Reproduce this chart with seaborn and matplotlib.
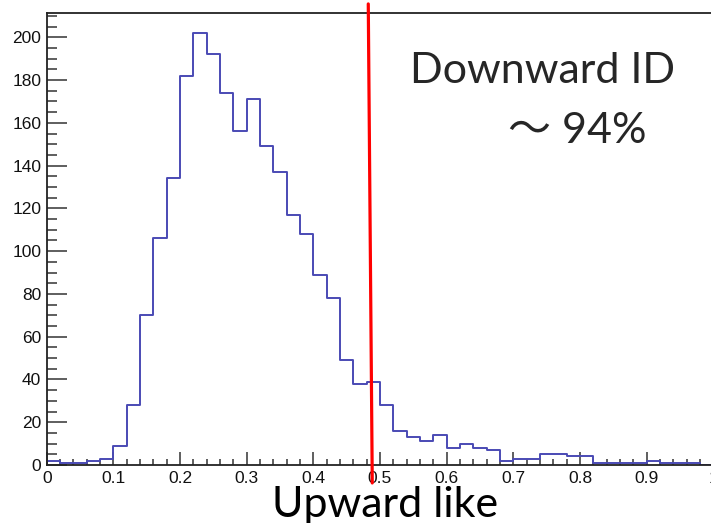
import numpy as np
import pandas as pd
import matplotlib
matplotlib.use("Agg")
import matplotlib.pyplot as plt
from matplotlib.ticker import MultipleLocator
import seaborn as sns

# Histogram of the upward-like score: 50 bins of width 0.02 on [0, 1]
bin_lo = [0.00, 0.02, 0.04, 0.06, 0.08, 0.10, 0.12, 0.14, 0.16, 0.18,
          0.20, 0.22, 0.24, 0.26, 0.28, 0.30, 0.32, 0.34, 0.36, 0.38,
          0.40, 0.42, 0.44, 0.46, 0.48, 0.50, 0.52, 0.54, 0.56, 0.58,
          0.60, 0.62, 0.64, 0.66, 0.68, 0.70, 0.72, 0.74, 0.76, 0.78,
          0.80, 0.82, 0.84, 0.86, 0.88, 0.90, 0.92, 0.94, 0.96, 0.98]
counts = [2, 1, 1, 2, 3, 9, 28, 70, 106, 134,
          182, 202, 192, 174, 156, 171, 149, 137, 117, 108,
          89, 78, 49, 38, 39, 28, 16, 13, 11, 14,
          8, 10, 8, 7, 2, 3, 3, 5, 5, 4,
          4, 1, 1, 1, 1, 2, 1, 1, 1, 0]
bin_width = 0.02

# Cut line (drawn by hand, slightly tilted)
cut_top = 0.4824
cut_bottom = 0.4884

x_ticks = [0, 0.1, 0.2, 0.3, 0.4, 0.5, 0.6, 0.7, 0.8, 0.9, 1]
x_tick_labels = ["0", "0.1", "0.2", "0.3", "0.4", "0.5", "0.6", "0.7", "0.8", "0.9", "1"]
y_ticks = [0, 20, 40, 60, 80, 100, 120, 140, 160, 180, 200]

title_text = "Downward ID"
eff_text = "～ 94%"
x_label = "Upward like"

df = pd.DataFrame({"score": np.array(bin_lo) + bin_width / 2, "n": counts})
edges = [round(b, 2) for b in bin_lo] + [1.0]

sns.set_style("white")
plt.rcParams["font.family"] = ["Liberation Sans", "DejaVu Sans"]

W, H = 711, 523
fig = plt.figure(figsize=(W / 100, H / 100), dpi=100)
ax_left, ax_right, ax_top, ax_bottom = 46.7, 713.3, 12.7, 465.0
ax = fig.add_axes([ax_left / W, 1 - ax_bottom / H,
                   (ax_right - ax_left) / W, (ax_bottom - ax_top) / H])

sns.histplot(data=df, x="score", weights="n", bins=edges, element="step",
             fill=False, color="#4a4ab4", linewidth=1.4, ax=ax)

ax.set_xlim(0, 1)
ax.set_ylim(0, 211.5)

# Hand-drawn cut line extending past the frame
ax.plot([cut_bottom, cut_top], [-8.4, 215.6], color="red", linewidth=2.3,
        clip_on=False, zorder=5)

ax.set_xticks(x_ticks)
ax.set_xticklabels(x_tick_labels)
ax.set_yticks(y_ticks)
ax.xaxis.set_minor_locator(MultipleLocator(0.02))
ax.yaxis.set_minor_locator(MultipleLocator(5))

ax.tick_params(axis="both", which="both", direction="in", color="#333333",
               width=1.1, labelsize=12.5, labelcolor="#111111")
ax.tick_params(axis="y", which="major", length=14.4, pad=4)
ax.tick_params(axis="y", which="minor", length=7.2)
ax.tick_params(axis="x", which="major", length=9.4, pad=4)
ax.tick_params(axis="x", which="minor", length=4.3)
ax.tick_params(left=True, bottom=True, which="both")

for side in ["left", "bottom", "top"]:
    ax.spines[side].set_visible(True)
    ax.spines[side].set_color("#222222")
    ax.spines[side].set_linewidth(1.3)
ax.spines["right"].set_visible(False)

ax.set_ylabel("")
ax.set_xlabel(x_label, fontsize=31, family=["Lato", "DejaVu Sans"],
              va="baseline", color="black")
ax.xaxis.set_label_coords((385 - ax_left) / (ax_right - ax_left),
                          (ax_bottom - 517) / (ax_bottom - ax_top))

fig.text(410 / W, 1 - 83 / H, title_text, fontsize=31,
         family=["Lato", "DejaVu Sans"], va="baseline", ha="left")
fig.text(508 / W, 1 - 143 / H, eff_text, fontsize=31,
         family=["Lato", "Noto Sans CJK JP", "DejaVu Sans"],
         va="baseline", ha="left")

fig.savefig("out.png", dpi=100, facecolor="white")
